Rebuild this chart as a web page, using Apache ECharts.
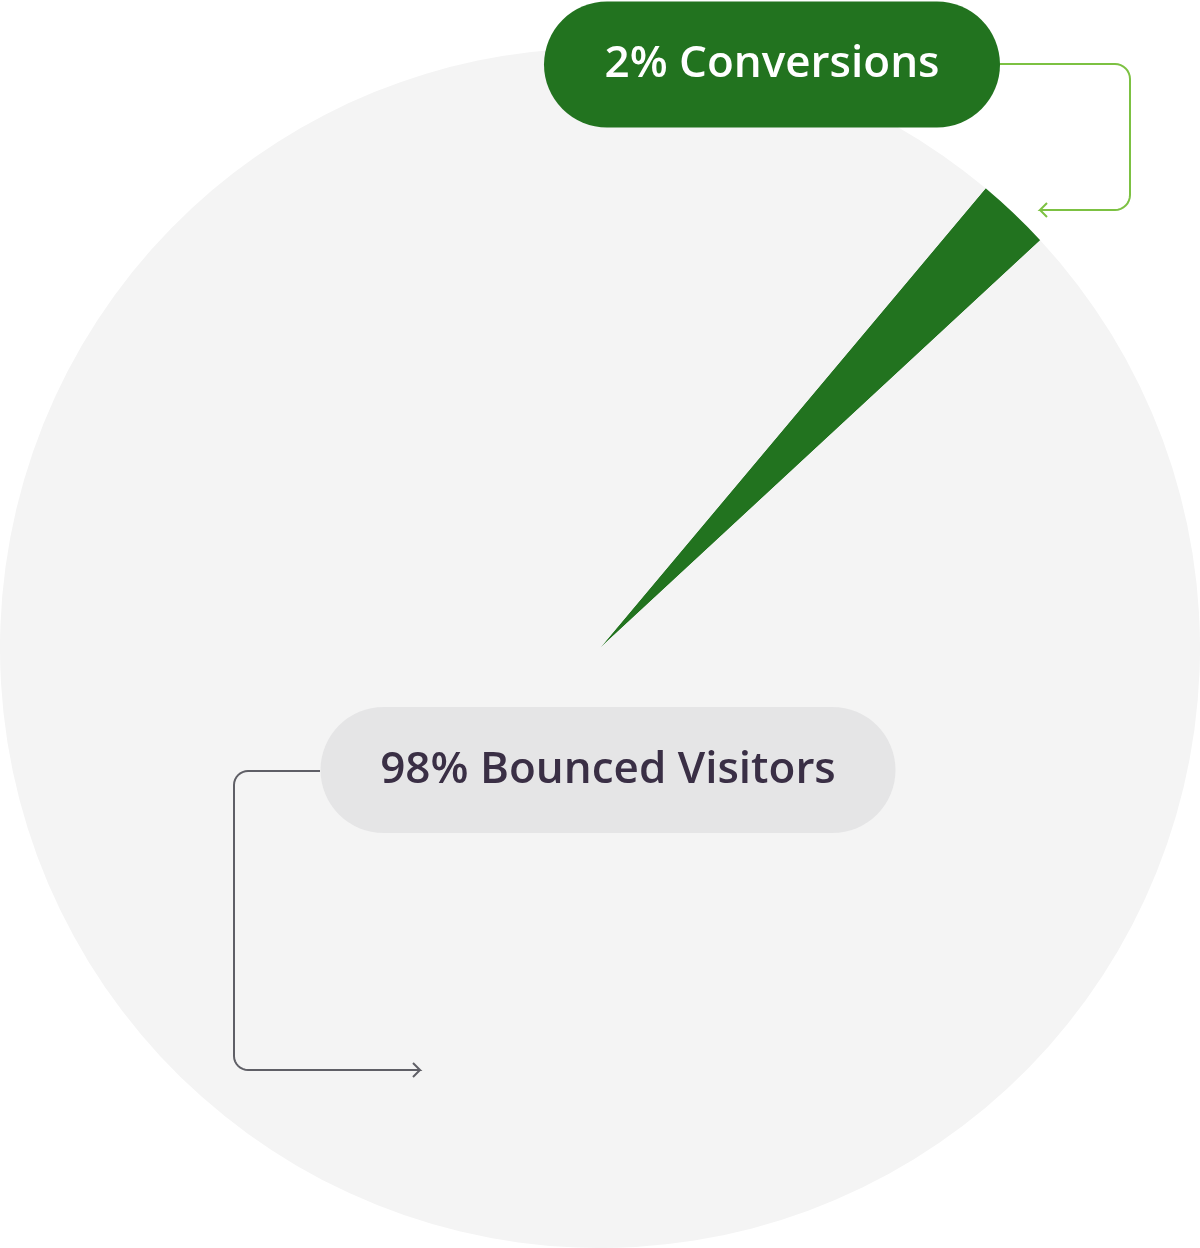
<!DOCTYPE html>
<html>
<head>
<meta charset="utf-8">
<script src="https://cdn.jsdelivr.net/npm/echarts@6/dist/echarts.min.js"></script>
<style>
html,body{margin:0;padding:0;background:#ffffff;}
#chart{width:1200px;height:1248px;}
</style>
</head>
<body>
<div id="chart"></div>
<script>
// ---- data ----
const categories = ['Conversions', 'Bounced Visitors'];
const values = [2, 98];
const sliceColors = ['#22731f', '#f4f4f4'];

// ---- layout ----
const CX = 600, CY = 648, R = 600;

function corner(cx, cy, r, a0, a1, n) {
  const pts = [];
  for (let i = 0; i <= n; i++) {
    const a = (a0 + (a1 - a0) * i / n) * Math.PI / 180;
    pts.push([cx + r * Math.cos(a), cy + r * Math.sin(a)]);
  }
  return pts;
}

// label anchor points and connectors (annotation geometry)
const labelPos = [
  { x: 772, y: 64.5 },
  { x: 608, y: 770 }
];
function connector(i) {
  if (i === 0) {
    const rr = 15;
    return [[1000, 64]]
      .concat(corner(1130 - rr, 64 + rr, rr, -90, 0, 8))
      .concat(corner(1130 - rr, 210 - rr, rr, 0, 90, 8))
      .concat([[1040, 210], [1047, 203], [1040, 210], [1047, 217]]);
  }
  const rr = 14;
  return [[320, 771]]
    .concat(corner(234 + rr, 771 + rr, rr, -90, -180, 8))
    .concat(corner(234 + rr, 1070 - rr, rr, 180, 90, 8))
    .concat([[420, 1070], [413, 1063], [420, 1070], [413, 1077]]);
}

const chart = echarts.init(document.getElementById('chart'), null, { renderer: 'canvas' });

const labelStyles = [
  { color: '#ffffff', backgroundColor: '#22731f', width: 336, line: '#7cc142' },
  { color: '#3a2f45', backgroundColor: '#e5e5e6', width: 455, line: '#5f5f66' }
];

const common = {
  type: 'pie',
  center: [CX, CY],
  radius: [0, R],
  startAngle: 50,
  clockwise: true,
  avoidLabelOverlap: false,
  emphasis: { disabled: true },
  silent: true
};

// slices
const sliceData = categories.map((c, i) => ({
  name: c,
  value: values[i],
  itemStyle: { color: sliceColors[i], borderWidth: 0 }
}));

// same slices, transparent, carrying the labels so their connectors sit above the slices
const labelData = categories.map((c, i) => ({
  name: c,
  value: values[i],
  itemStyle: { color: 'rgba(0,0,0,0)', borderWidth: 0 },
  label: {
    color: labelStyles[i].color,
    backgroundColor: labelStyles[i].backgroundColor,
    width: labelStyles[i].width
  },
  labelLine: { lineStyle: { color: labelStyles[i].line, width: 2, opacity: 1 } }
}));

chart.setOption({
  animation: false,
  series: [
    Object.assign({}, common, {
      z: 2,
      label: { show: false },
      labelLine: { show: false },
      data: sliceData
    }),
    Object.assign({}, common, {
      z: 3,
      label: {
        show: true,
        position: 'outside',
        formatter: p => Math.round(p.percent) + '% ' + p.name,
        fontFamily: 'Open Sans',
        fontSize: 44,
        fontWeight: 600,
        lineHeight: 46,
        padding: [40, 60, 40, 60],
        borderRadius: 63,
        align: 'center',
        overflow: 'none'
      },
      labelLine: { show: true, smooth: false },
      labelLayout: function (params) {
        const i = params.dataIndex;
        return {
          x: labelPos[i].x,
          y: labelPos[i].y,
          align: 'center',
          verticalAlign: 'middle',
          labelLinePoints: connector(i)
        };
      },
      data: labelData
    })
  ]
});
</script>
</body>
</html>
